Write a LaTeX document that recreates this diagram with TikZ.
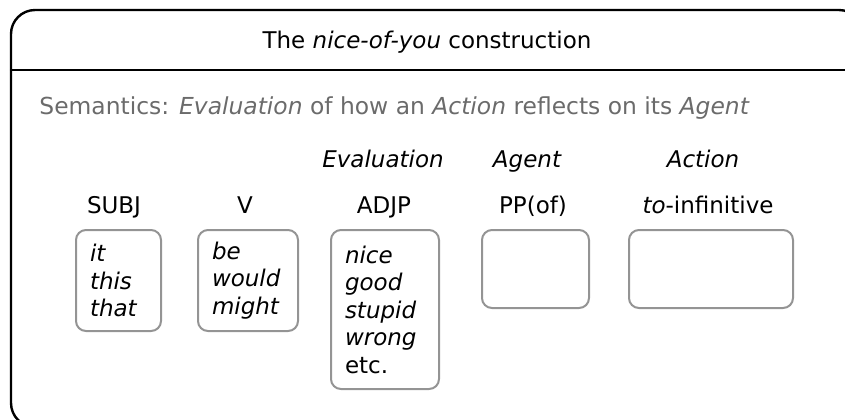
\documentclass[tikz,border=0pt]{standalone}
\usepackage{fontspec}
\setmainfont{DejaVu Sans}
\begin{document}
\begin{tikzpicture}[x=0.5pt,y=-0.5pt,line join=round,line cap=round]
	\tikzset{every node/.style={font=\fontsize{11.5}{13.75}\selectfont},
		role/.style={anchor=base,font=\fontsize{11.5}{13.75}\selectfont\itshape},
		cat/.style={anchor=base},
		slot/.style={draw=black!42,line width=1pt,rounded corners=5pt,anchor=north west,
			inner xsep=7pt,inner ysep=0pt,align=left,font=\fontsize{11.5}{13.75}\selectfont\itshape}}
	\useasboundingbox (0,0) rectangle (845,419);
	\begin{scope}
		\clip (0,0) rectangle (845,419);
		\draw[line width=1.2pt,rounded corners=12pt] (11,10) rectangle (863,427);
		\draw[line width=1.2pt] (11,70)--(863,70);
	\end{scope}
	\node[anchor=base] (title) at (427,48) {The \textit{nice-of-you} construction};
	\node[anchor=base west,inner xsep=0pt,text=black!58,font=\fontsize{11.7}{13.75}\selectfont] (semantics) at (39,114)
		{Semantics: \textit{Evaluation} of how an \textit{Action} reflects on its \textit{Agent}};
	% semantic roles
	\foreach \x/\txt/\nm in {383/Evaluation/evaluation,527/Agent/agent,703/Action/action}
	\node[role] (\nm) at (\x,167) {\txt};
	% syntactic categories
	\foreach \x/\txt/\nm in {114/SUBJ/subj,245/V/verb,384/ADJP/adjp,533/PP(of)/pp}
	\node[cat] (\nm) at (\x,213) {\txt};
	\node[cat] (inf) at (708,213) {\textit{to}-infinitive};
	% fillers
	\node[slot,text width=28.5pt,minimum height=50.5pt] (subjbox) at (75,229) {it\\this\\that};
	\node[slot,text width=36pt,minimum height=50.5pt] (verbbox) at (197,229) {be\\would\\might};
	\node[slot,text width=40pt,minimum height=79.5pt] (adjpbox) at (330,229) {nice\\good\\stupid\\wrong\\\upshape etc.};
	\node[slot,text width=39.5pt,minimum height=39pt] (ppbox) at (481,229) {};
	\node[slot,text width=68pt,minimum height=39pt] (infbox) at (628,229) {};
\end{tikzpicture}
\end{document}
